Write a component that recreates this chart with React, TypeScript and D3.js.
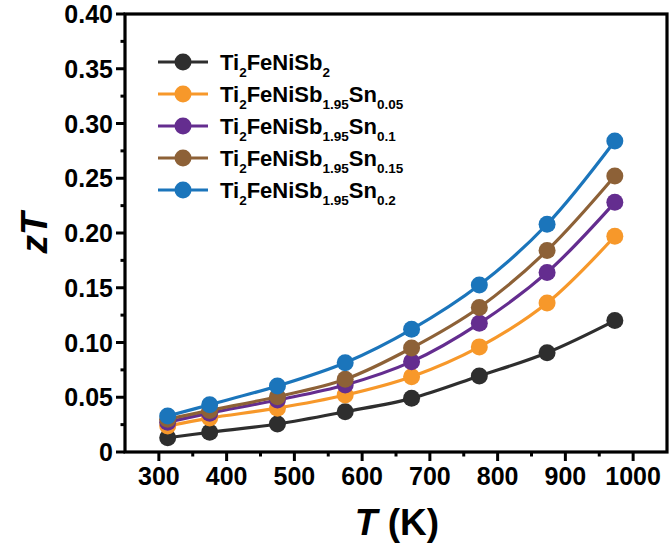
import React from "react";
import * as d3 from "d3";

const temps = [313, 375, 475, 575, 673, 773, 873, 973];
const zt0 = [0.013, 0.018, 0.0256, 0.0368, 0.049, 0.0694, 0.0907, 0.120];
const zt005 = [0.0237, 0.031, 0.040, 0.052, 0.0688, 0.096, 0.136, 0.197];
const zt01 = [0.0272, 0.0355, 0.0475, 0.0612, 0.0825, 0.1175, 0.164, 0.228];
const zt015 = [0.030, 0.038, 0.0505, 0.0664, 0.095, 0.132, 0.184, 0.252];
const zt02 = [0.0329, 0.0432, 0.0603, 0.0815, 0.112, 0.1525, 0.208, 0.284];

const seriesNames = [
  { sub1: "2", base: "FeNiSb", sub2: "2", tail: "", sub3: "" },
  { sub1: "2", base: "FeNiSb", sub2: "1.95", tail: "Sn", sub3: "0.05" },
  { sub1: "2", base: "FeNiSb", sub2: "1.95", tail: "Sn", sub3: "0.1" },
  { sub1: "2", base: "FeNiSb", sub2: "1.95", tail: "Sn", sub3: "0.15" },
  { sub1: "2", base: "FeNiSb", sub2: "1.95", tail: "Sn", sub3: "0.2" },
];
const seriesValues = [zt0, zt005, zt01, zt015, zt02];
const colors = ["#2e2e2e", "#f7982a", "#642d8f", "#8d6137", "#1b75bb"];

const xTicks = [300, 400, 500, 600, 700, 800, 900, 1000];
const xMinor = [350, 450, 550, 650, 750, 850, 950];
const yTicks = [0, 0.05, 0.1, 0.15, 0.2, 0.25, 0.3, 0.35, 0.4];
const yMinor = [0.025, 0.075, 0.125, 0.175, 0.225, 0.275, 0.325, 0.375];

const W = 671, H = 548;
const L = 125, R = 667, T = 14, B = 452;
const FONT = "Arial, 'Liberation Sans', Helvetica, sans-serif";

export default function App() {
  const x = d3.scaleLinear().domain([250, 1050]).range([L, R]);
  const y = d3.scaleLinear().domain([0, 0.4]).range([B, T]);
  const line = d3
    .line<[number, number]>()
    .x((d) => x(d[0]))
    .y((d) => y(d[1]))
    .curve(d3.curveCatmullRom.alpha(0.5));

  const yFmt = (v: number) => (v === 0 ? "0" : d3.format(".2f")(v));

  return (
    <svg
      width={W}
      height={H}
      style={{ position: "absolute", left: 0, top: 0, background: "#fff" }}
      fontFamily={FONT}
    >
      <rect x={0} y={0} width={W} height={H} fill="#fff" />
      {seriesValues.map((vals, i) => {
        const pts = temps.map((t, j) => [t, vals[j]] as [number, number]);
        return (
          <g key={i}>
            <path d={line(pts) || ""} fill="none" stroke={colors[i]} strokeWidth={3.2} />
            {pts.map((p, j) => (
              <circle key={j} cx={x(p[0])} cy={y(p[1])} r={8.5} fill={colors[i]} />
            ))}
          </g>
        );
      })}
      <rect x={L} y={T} width={R - L} height={B - T} fill="none" stroke="#000" strokeWidth={3.2} />
      {yTicks.map((v) => (
        <g key={"y" + v}>
          <line x1={L - 9} x2={L} y1={y(v)} y2={y(v)} stroke="#000" strokeWidth={3} />
          <text
            x={L - 12}
            y={y(v) + 9}
            textAnchor="end"
            fontSize={25}
            fontWeight="bold"
            fill="#000"
          >
            {yFmt(v)}
          </text>
        </g>
      ))}
      {yMinor.map((v) => (
        <line key={"ym" + v} x1={L - 4.5} x2={L} y1={y(v)} y2={y(v)} stroke="#000" strokeWidth={3} />
      ))}
      {xTicks.map((v) => (
        <g key={"x" + v}>
          <line x1={x(v)} x2={x(v)} y1={B} y2={B + 9} stroke="#000" strokeWidth={3} />
          <text x={x(v)} y={B + 33} textAnchor="middle" fontSize={25} fontWeight="bold" fill="#000">
            {v}
          </text>
        </g>
      ))}
      {xMinor.map((v) => (
        <line key={"xm" + v} x1={x(v)} x2={x(v)} y1={B} y2={B + 4.5} stroke="#000" strokeWidth={3} />
      ))}
      <text x={397} y={535} textAnchor="middle" fontSize={37} fontWeight="bold" fill="#000">
        <tspan fontStyle="italic">T</tspan>
        <tspan> (K)</tspan>
      </text>
      <text
        transform={`translate(47, ${y(0.2)}) rotate(-90)`}
        textAnchor="middle"
        fontSize={37}
        fontWeight="bold"
        fontStyle="italic"
        fill="#000"
      >
        zT
      </text>
      {seriesNames.map((n, i) => {
        const cy = 62 + i * 32;
        return (
          <g key={"lg" + i}>
            <line x1={158} x2={208} y1={cy} y2={cy} stroke={colors[i]} strokeWidth={3.2} />
            <circle cx={183} cy={cy} r={8.5} fill={colors[i]} />
            <text x={220} y={cy + 8} fontSize={22} fontWeight="bold" fill="#000">
              <tspan>Ti</tspan>
              <tspan fontSize={13.5} dy={7}>{n.sub1}</tspan>
              <tspan dy={-7}>{n.base}</tspan>
              <tspan fontSize={13.5} dy={7}>{n.sub2}</tspan>
              {n.tail ? <tspan dy={-7}>{n.tail}</tspan> : null}
              {n.sub3 ? <tspan fontSize={13.5} dy={7}>{n.sub3}</tspan> : null}
            </text>
          </g>
        );
      })}
    </svg>
  );
}
